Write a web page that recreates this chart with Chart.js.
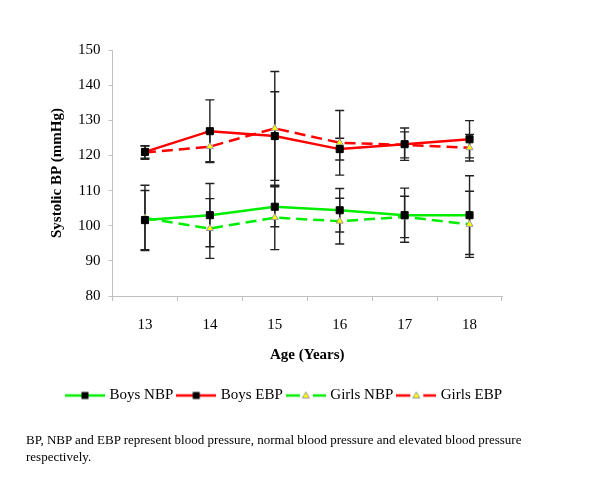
<!DOCTYPE html>
<html>
<head>
<meta charset="utf-8">
<script src="https://cdn.jsdelivr.net/npm/chart.js@4/dist/chart.umd.min.js"></script>
<style>
    html, body { margin: 0; padding: 0; background: #ffffff; }
    #painel { position: relative; width: 600px; height: 501px; }
    #nota {
        position: absolute;
        left: 26px;
        top: 431px;
        font: 13px "Liberation Serif", "Times New Roman", serif;
        line-height: 17px;
        color: #000000;
        white-space: nowrap;
    }
</style>
</head>
<body>
<div id="painel">
    <canvas id="grafico" width="600" height="501"></canvas>
    <div id="nota">BP, NBP and EBP represent blood pressure, normal blood pressure and elevated blood pressure<br>respectively.</div>
</div>
<script>
"use strict";

/********************************************************************
 * Dados
 ********************************************************************/
const idades = ["13", "14", "15", "16", "17", "18"];

const boysNBP = [101.6, 103.0, 105.4, 104.4, 103.0, 103.0];
const boysNBPErro = [8.4, 9.0, 5.7, 6.2, 7.7, 11.2];

const boysEBP = [121.0, 126.9, 125.5, 121.8, 123.2, 124.6];
const boysEBPErro = [1.8, 8.9, 12.6, 3.1, 4.6, 5.3];

const girlsNBP = [102.2, 99.2, 102.3, 101.3, 102.5, 100.4];
const girlsNBPErro = [9.3, 8.5, 9.1, 6.5, 5.9, 9.4];

const girlsEBP = [120.8, 122.5, 127.7, 123.6, 123.0, 122.2];
const girlsEBPErro = [1.9, 4.3, 16.2, 9.2, 3.7, 3.8];

const eixoYMin = 80;
const eixoYMax = 150;
const eixoYPasso = 10;

const VERDE = "#00ee00";
const VERMELHO = "#ff0000";
const FONTE = "'Liberation Serif', 'Times New Roman', serif";

/********************************************************************
 * Barras de erro (desenhadas pela escala y)
 ********************************************************************/
const barrasErro = {

    id: "barrasErro",

    beforeDatasetsDraw(chart) {

        const ctx = chart.ctx;
        const escalaY = chart.scales.y;

        chart.data.datasets.forEach((ds, i) => {

            const meta = chart.getDatasetMeta(i);

            if (!ds.erros || meta.hidden) return;

            ctx.save();
            ctx.strokeStyle = "#222222";
            ctx.lineWidth = 1.4;

            meta.data.forEach((ponto, j) => {

                const topo = escalaY.getPixelForValue(ds.data[j] + ds.erros[j]);
                const base = escalaY.getPixelForValue(ds.data[j] - ds.erros[j]);

                ctx.beginPath();
                ctx.moveTo(ponto.x, topo);
                ctx.lineTo(ponto.x, base);
                ctx.moveTo(ponto.x - 4.5, topo);
                ctx.lineTo(ponto.x + 4.5, topo);
                ctx.moveTo(ponto.x - 4.5, base);
                ctx.lineTo(ponto.x + 4.5, base);
                ctx.stroke();

            });

            ctx.restore();

        });

    }

};

/********************************************************************
 * Ícone da legenda: linha + marcador
 ********************************************************************/
function iconeLegenda(cor, tracejado, triangulo) {

    const c = document.createElement("canvas");
    c.width = 40;
    c.height = 12;

    const g = c.getContext("2d");

    g.strokeStyle = cor;
    g.lineWidth = 2.5;
    g.beginPath();

    if (tracejado) {
        g.moveTo(0, 6); g.lineTo(14, 6);
        g.moveTo(27, 6); g.lineTo(40, 6);
    } else {
        g.moveTo(0, 6); g.lineTo(40, 6);
    }

    g.stroke();

    if (triangulo) {
        g.fillStyle = "#ffff00";
        g.strokeStyle = "#999999";
        g.lineWidth = 1;
        g.beginPath();
        g.moveTo(20, 2.5);
        g.lineTo(23.5, 8.5);
        g.lineTo(16.5, 8.5);
        g.closePath();
        g.fill();
        g.stroke();
    } else {
        g.fillStyle = "#000000";
        g.fillRect(16.5, 2.5, 7, 7);
    }

    return c;

}

/********************************************************************
 * Série
 ********************************************************************/
function serie(rotulo, dados, erros, cor, tracejado, triangulo) {

    return {
        label: rotulo,
        data: dados,
        erros: erros,
        borderColor: cor,
        borderWidth: 2.5,
        borderDash: tracejado ? [11, 6] : [],
        fill: false,
        tension: 0,
        pointStyle: triangulo ? "triangle" : "rect",
        pointRadius: triangulo ? 4 : 5,
        pointBackgroundColor: triangulo ? "#ffff00" : "#000000",
        pointBorderColor: triangulo ? "#999999" : "#000000",
        pointBorderWidth: 1,
        icone: iconeLegenda(cor, tracejado, triangulo)
    };

}

/********************************************************************
 * Gráfico
 ********************************************************************/
new Chart(document.getElementById("grafico"), {

    type: "line",

    data: {
        labels: idades,
        datasets: [
            serie("Boys NBP", boysNBP, boysNBPErro, VERDE, false, false),
            serie("Boys EBP", boysEBP, boysEBPErro, VERMELHO, false, false),
            serie("Girls NBP", girlsNBP, girlsNBPErro, VERDE, true, true),
            serie("Girls EBP", girlsEBP, girlsEBPErro, VERMELHO, true, true)
        ]
    },

    plugins: [barrasErro],

    options: {

        responsive: false,
        animation: false,

        layout: {
            padding: { left: 48, right: 78, top: 50, bottom: 88 }
        },

        plugins: {

            tooltip: { enabled: false },

            legend: {
                position: "bottom",
                labels: {
                    usePointStyle: true,
                    pointStyleWidth: 34,
                    padding: 6,
                    color: "#000000",
                    font: { family: FONTE, size: 15 },
                    generateLabels(chart) {
                        const itens = Chart.defaults.plugins.legend.labels.generateLabels(chart);
                        itens.forEach(item => {
                            item.pointStyle = chart.data.datasets[item.datasetIndex].icone;
                        });
                        return itens;
                    }
                }
            }

        },

        scales: {

            x: {
                offset: true,
                grid: {
                    offset: true,
                    drawOnChartArea: false,
                    color: "#c0c0c0",
                    tickLength: 5
                },
                border: { color: "#c0c0c0" },
                ticks: {
                    padding: 15,
                    color: "#000000",
                    font: { family: FONTE, size: 15 }
                },
                title: {
                    display: true,
                    text: "Age (Years)",
                    color: "#000000",
                    font: { family: FONTE, size: 15, weight: "bold" },
                    padding: { top: -3, bottom: 18 }
                }
            },

            y: {
                min: eixoYMin,
                max: eixoYMax,
                grid: {
                    drawOnChartArea: false,
                    color: "#c0c0c0",
                    tickLength: 4
                },
                border: { color: "#c0c0c0" },
                ticks: {
                    stepSize: eixoYPasso,
                    padding: 8,
                    color: "#000000",
                    font: { family: FONTE, size: 15 }
                },
                title: {
                    display: true,
                    text: "Systolic BP (mmHg)",
                    color: "#000000",
                    font: { family: FONTE, size: 15, weight: "bold" },
                    padding: { top: 0, bottom: 4 }
                }
            },

            reserva: {
                position: "right",
                display: true,
                grid: { display: false },
                border: { display: false },
                ticks: { display: false },
                afterFit(escala) {
                    escala.width = 20;
                }
            }

        }

    }

});
</script>
</body>
</html>
